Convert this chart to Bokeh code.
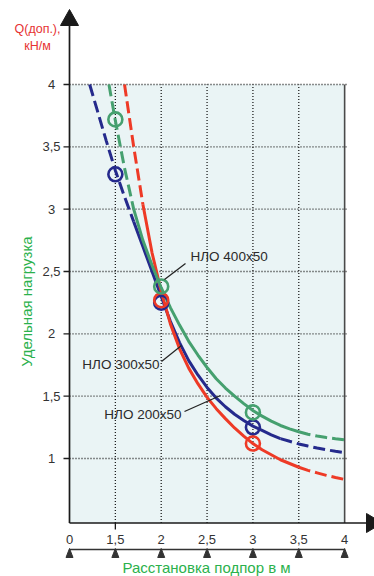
import numpy as np
from math import pi
from bokeh.plotting import figure
from bokeh.models import Range1d
from bokeh.core.properties import value
from bokeh.embed import file_html
from bokeh.resources import INLINE

# ---------------- data ----------------
X_TICKS = [1.0, 1.5, 2.0, 2.5, 3.0, 3.5, 4.0]          # axis positions (broken axis: first tick is "0")
X_LABELS = ["0", "1,5", "2", "2,5", "3", "3,5", "4"]
Y_TICKS = [1.0, 1.5, 2.0, 2.5, 3.0, 3.5, 4.0]
Y_LABELS = ["1", "1,5", "2", "2,5", "3", "3,5", "4"]

NAMES = ["НЛО 400x50", "НЛО 300x50", "НЛО 200x50"]

# НЛО 400x50 (green)
G_X = [1.43, 1.5, 1.6, 1.7, 1.8, 1.9, 2.0, 2.1, 2.2, 2.3, 2.4, 2.5, 2.6, 2.7,
       2.8, 2.9, 3.0, 3.1, 3.2, 3.3, 3.4, 3.5, 3.6, 3.7, 3.8, 3.9, 4.0]
G_Y = [4.00, 3.71, 3.33, 3.00, 2.75, 2.55, 2.37, 2.21, 2.07, 1.94, 1.83, 1.73, 1.64, 1.565,
       1.50, 1.44, 1.385, 1.34, 1.30, 1.265, 1.238, 1.215, 1.195, 1.18, 1.168, 1.158, 1.15]
G_CX = [1.5, 2.0, 3.0]
G_CY = [3.72, 2.38, 1.37]

# НЛО 300x50 (blue)
B_X = [1.22, 1.3, 1.4, 1.5, 1.6, 1.7, 1.8, 1.9, 2.0, 2.1, 2.2, 2.3, 2.4, 2.5, 2.6,
       2.7, 2.8, 2.9, 3.0, 3.1, 3.2, 3.3, 3.4, 3.5, 3.6, 3.7, 3.8, 3.9, 4.0]
B_Y = [4.00, 3.80, 3.55, 3.31, 3.10, 2.90, 2.70, 2.50, 2.30, 2.10, 1.93, 1.785, 1.67, 1.57, 1.485,
       1.415, 1.355, 1.305, 1.26, 1.225, 1.19, 1.16, 1.138, 1.117, 1.10, 1.084, 1.07, 1.058, 1.047]
B_CX = [1.5, 2.0, 3.0]
B_CY = [3.28, 2.25, 1.25]

# НЛО 200x50 (red)
R_X = [1.6, 1.7, 1.8, 1.9, 2.0, 2.1, 2.2, 2.3, 2.4, 2.5, 2.6, 2.7, 2.8,
       2.9, 3.0, 3.1, 3.2, 3.3, 3.4, 3.5, 3.6, 3.7, 3.8, 3.9, 4.0]
R_Y = [4.00, 3.50, 3.04, 2.65, 2.34, 2.08, 1.88, 1.725, 1.60, 1.49, 1.40, 1.32, 1.245,
       1.18, 1.12, 1.07, 1.03, 0.99, 0.96, 0.93, 0.905, 0.885, 0.865, 0.848, 0.832]
R_CX = [2.0, 3.0]
R_CY = [2.27, 1.12]

# ---------------- layout / style ----------------
W, H = 374, 576
SX = 91.71     # px per x unit
SY = 124.67    # px per y unit
X0 = 1.0 - 69 / SX
X1 = X0 + W / SX
Y1 = 4.0 + 84 / SY
Y0 = Y1 - H / SY


def RX(px):
    return 1.0 + (px - 69) / SX


def RY(py):
    return 4.0 - (py - 84) / SY


Y_AX = RY(522.5)
BG = "#eaf4f5"
GRID = "#1e1e1e"
AXC = "#1a1a1a"
GREEN = "#46a06f"
BLUE = "#252a8c"
RED = "#ee3a26"
TXT = "#333333"
TITLE_G = "#2bb14c"
QRED = "#e63232"
FONT = value("Liberation Sans")

p = figure(width=W, height=H, x_range=Range1d(X0, X1), y_range=Range1d(Y0, Y1),
           x_axis_type=None, y_axis_type=None, output_backend="svg",
           toolbar_location=None, min_border=0)
p.outline_line_color = None
p.grid.visible = False
p.background_fill_color = "white"
p.border_fill_color = "white"

# plot area background
p.quad(left=X_TICKS[0], right=X_TICKS[-1], bottom=Y_AX, top=Y_TICKS[-1],
       fill_color=BG, line_color=None)

# horizontal dotted grid + left ticks
n = len(Y_TICKS)
p.segment(x0=[X_TICKS[0]] * n, y0=Y_TICKS, x1=[RX(347)] * n, y1=Y_TICKS,
          line_color=GRID, line_width=1.3, line_dash="1 2")
p.segment(x0=[RX(63)] * n, y0=Y_TICKS, x1=[X_TICKS[0]] * n, y1=Y_TICKS,
          line_color=GRID, line_width=1.3)
# vertical dotted grid
inner = X_TICKS[1:-1]
p.segment(x0=inner, y0=[Y_AX] * len(inner), x1=inner, y1=[Y_TICKS[-1]] * len(inner),
          line_color=GRID, line_width=1.3, line_dash="1 2")
# right border
p.segment(x0=[X_TICKS[-1]], y0=[Y_AX], x1=[X_TICKS[-1]], y1=[Y_TICKS[-1]],
          line_color="#4a4a4a", line_width=1.6)

# axes with arrows
p.line([X_TICKS[0], X_TICKS[0]], [Y_AX, RY(25)], line_color=AXC, line_width=1.7)
p.patch([RX(60), RX(78), RX(69)], [RY(25), RY(25), RY(9)], color=AXC)
p.line([X_TICKS[0], RX(367)], [Y_AX, Y_AX], line_color=AXC, line_width=1.7)
p.patch([RX(366), RX(366), RX(382)], [RY(513), RY(532), Y_AX], color=AXC)
p.segment(x0=[X_TICKS[1]], y0=[Y_AX], x1=[X_TICKS[1]], y1=[RY(529)],
          line_color=AXC, line_width=1.3)

# y tick labels
p.text(x=[RX(51)] * n, y=Y_TICKS, text=Y_LABELS, text_align="center",
       text_baseline="middle", text_font=FONT, text_font_size=value("13px"),
       text_color=TXT)


# curves
def split(xs, ys, xa, xb):
    xs = np.asarray(xs)
    ys = np.asarray(ys)
    a = xs <= xa + 1e-9
    m = (xs >= xa - 1e-9) & (xs <= xb + 1e-9)
    b = xs >= xb - 1e-9
    return (xs[a], ys[a]), (xs[m], ys[m]), (xs[b], ys[b])


series = [
    (B_X, B_Y, BLUE, 1.7, 3.3),
    (R_X, R_Y, RED, 1.8, 3.5),
    (G_X, G_Y, GREEN, 1.7, 3.5),
]
for xs, ys, col, xa, xb in series:
    top, mid, end = split(xs, ys, xa, xb)
    p.line(top[0], top[1], line_color=col, line_width=3, line_dash="12 5")
    p.line(mid[0], mid[1], line_color=col, line_width=3, line_join="round")
    p.line(end[0], end[1], line_color=col, line_width=3, line_dash="12 5")

for cx, cy, col in [(B_CX, B_CY, BLUE), (R_CX, R_CY, RED), (G_CX, G_CY, GREEN)]:
    p.scatter(cx, cy, marker="circle", size=14, fill_color=None,
              line_color=col, line_width=2.6)

# series labels with leader lines
p.segment(x0=[RX(185), RX(161), RX(184)], y0=[RY(263), RY(361), RY(411)],
          x1=[RX(164), RX(181), RX(220)], y1=[RY(279), RY(345), RY(395)],
          line_color="#222222", line_width=1.3)
p.text(x=[RX(190)], y=[RY(256)], text=[NAMES[0]], text_align="left",
       text_baseline="middle", text_font=FONT, text_font_size=value("13.5px"),
       text_color="#2a2a2a")
p.text(x=[RX(159), RX(181)], y=[RY(364), RY(414)], text=[NAMES[1], NAMES[2]],
       text_align="right", text_baseline="middle", text_font=FONT,
       text_font_size=value("13.5px"), text_color="#2a2a2a")

# bottom ruler
p.line([X_TICKS[0], X_TICKS[-1]], [RY(549), RY(549)], line_color="#333333", line_width=1.5)
hw = 3.5 / SX
p.patches([[x - hw, x + hw, x] for x in X_TICKS],
          [[RY(557), RY(557), RY(548)] for _ in X_TICKS], color="#333333")
p.text(x=X_TICKS, y=[RY(539)] * len(X_TICKS), text=X_LABELS, text_align="center",
       text_baseline="middle", text_font=FONT, text_font_size=value("13px"),
       text_color=TXT)

# axis titles
p.text(x=[RX(206)], y=[RY(567)], text=["Расстановка подпор в м"], text_align="center",
       text_baseline="middle", text_font=FONT, text_font_size=value("15px"),
       text_color=TITLE_G)
p.text(x=[RX(26)], y=[RY(301)], text=["Удельная нагрузка"], angle=pi / 2,
       text_align="center", text_baseline="middle", text_font=FONT,
       text_font_size=value("15px"), text_color=TITLE_G)
p.text(x=[RX(37), RX(37)], y=[RY(28), RY(45)], text=["Q(доп.),", "кН/м"],
       text_align="center", text_baseline="middle", text_font=FONT,
       text_font_size=value("12.5px"), text_color=QRED)

open("out.html", "w").write(file_html(p, INLINE))
